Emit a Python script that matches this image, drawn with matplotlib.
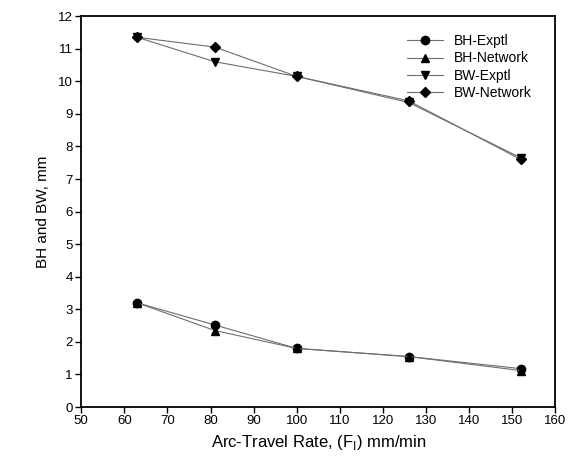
import matplotlib
matplotlib.use('Agg')
import matplotlib.pyplot as plt

plt.rcParams['font.family'] = ['Liberation Sans', 'DejaVu Sans']

# arc-travel rate (mm/min)
rate = [63, 81, 100, 126, 152]

# bead height and bead width, mm
bh_exptl = [3.2, 2.52, 1.8, 1.55, 1.18]
bh_network = [3.2, 2.35, 1.8, 1.55, 1.12]
bw_exptl = [11.35, 10.6, 10.15, 9.35, 7.65]
bw_network = [11.35, 11.05, 10.15, 9.4, 7.6]

series = [
    ("BH-Exptl", bh_exptl, "o"),
    ("BH-Network", bh_network, "^"),
    ("BW-Exptl", bw_exptl, "v"),
    ("BW-Network", bw_network, "D"),
]

fig = plt.figure(figsize=(5.76, 4.61), dpi=100)
ax = fig.add_axes([0.141, 0.117, 0.823, 0.848])

for name, vals, mk in series:
    ms = 5 if mk == "D" else 6
    ax.plot(rate, vals, color="#6e6e6e", linewidth=0.8, marker=mk,
            markersize=ms, markerfacecolor="black", markeredgecolor="black",
            label=name)

ax.set_xlim(50, 160)
ax.set_ylim(0, 12)
ax.set_xticks(range(50, 161, 10))
ax.set_yticks(range(0, 13))
ax.tick_params(direction="out", length=4, width=1, labelsize=9.5,
               top=False, right=False, pad=2)
for sp in ax.spines.values():
    sp.set_linewidth(1.3)

ax.set_xlabel("Arc-Travel Rate, (F$_\\mathregular{I}$) mm/min", fontsize=12, labelpad=4)
ax.set_ylabel("BH and BW, mm", fontsize=11, labelpad=6)

ax.legend(loc="upper right", frameon=False, fontsize=10, handlelength=2.6,
          labelspacing=0.25, borderaxespad=0.6, bbox_to_anchor=(0.98, 0.99))

fig.savefig("out.png", dpi=100)
